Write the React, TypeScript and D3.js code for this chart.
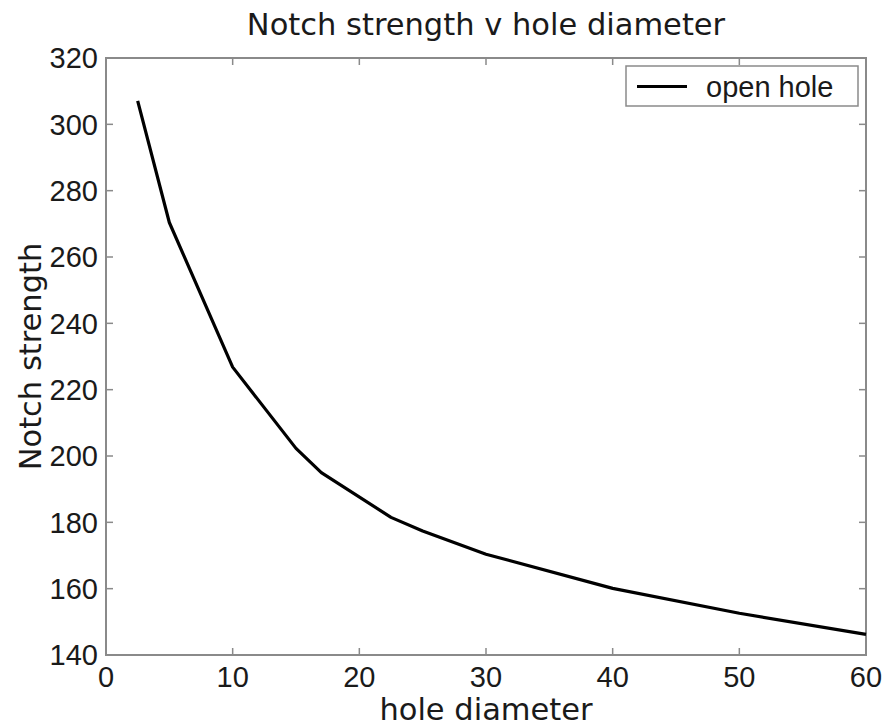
import React from "react";
import * as d3 from "d3";

const holeDiameter = [2.5, 5, 10, 15, 17, 22.5, 25, 30, 40, 50, 60];
const notchStrength = [307.1, 270.4, 226.8, 202.3, 195, 181.5, 177.4, 170.4, 160.1, 152.6, 146.2];
const xTicks = [0, 10, 20, 30, 40, 50, 60];
const yTicks = [140, 160, 180, 200, 220, 240, 260, 280, 300, 320];
const seriesName = "open hole";
const titleText = "Notch strength v hole diameter";
const xLabel = "hole diameter";
const yLabel = "Notch strength";

export default function App() {
  const W = 888, H = 726;
  const left = 106, right = 866, top = 58, bottom = 655;
  const x = d3.scaleLinear().domain([0, 60]).range([left, right]);
  const y = d3.scaleLinear().domain([140, 320]).range([bottom, top]);
  const line = d3.line<number>()
    .x((_, i) => x(holeDiameter[i]))
    .y((d) => y(d));
  const axisColor = "#8a8a8a";
  const tickLen = 7;
  const labelFont = "'DejaVu Sans', sans-serif";
  const tickFont = "'Liberation Sans', Arial, sans-serif";

  return (
    <svg width={W} height={H} style={{ position: "absolute", left: 0, top: 0, background: "#fff" }}>
      <rect x={0} y={0} width={W} height={H} fill="#fff" />
      {xTicks.map((t) => (
        <g key={"xt" + t}>
          <line x1={x(t)} x2={x(t)} y1={bottom} y2={bottom - tickLen} stroke={axisColor} strokeWidth={1.5} />
          <line x1={x(t)} x2={x(t)} y1={top} y2={top + tickLen} stroke={axisColor} strokeWidth={1.5} />
          <text x={x(t)} y={687} textAnchor="middle" fontFamily={tickFont} fontSize={29} fill="#1a1a1a">{t}</text>
        </g>
      ))}
      {yTicks.map((t) => (
        <g key={"yt" + t}>
          <line x1={left} x2={left + tickLen} y1={y(t)} y2={y(t)} stroke={axisColor} strokeWidth={1.5} />
          <line x1={right} x2={right - tickLen} y1={y(t)} y2={y(t)} stroke={axisColor} strokeWidth={1.5} />
          <text x={98} y={y(t)} dy="0.36em" textAnchor="end" fontFamily={tickFont} fontSize={29} fill="#1a1a1a">{t}</text>
        </g>
      ))}
      <rect x={left} y={top} width={right - left} height={bottom - top} fill="none" stroke={axisColor} strokeWidth={2} />
      <path d={line(notchStrength) || ""} fill="none" stroke="#000" strokeWidth={3.2} strokeLinejoin="round" />
      <rect x={626} y={66} width={232} height={40} fill="#fff" stroke={axisColor} strokeWidth={1.5} />
      <line x1={637} x2={687} y1={86.5} y2={86.5} stroke="#000" strokeWidth={3.2} />
      <text x={706} y={86.5} dy="0.36em" fontFamily={tickFont} fontSize={29} fill="#1a1a1a">{seriesName}</text>
      <text x={(left + right) / 2} y={35} textAnchor="middle" fontFamily={labelFont} fontSize={30.5} fill="#1a1a1a">{titleText}</text>
      <text x={(left + right) / 2} y={720} textAnchor="middle" fontFamily={labelFont} fontSize={30.5} fill="#1a1a1a">{xLabel}</text>
      <text transform={`translate(41, ${(top + bottom) / 2}) rotate(-90)`} textAnchor="middle" fontFamily={labelFont} fontSize={30.5} fill="#1a1a1a">{yLabel}</text>
    </svg>
  );
}
